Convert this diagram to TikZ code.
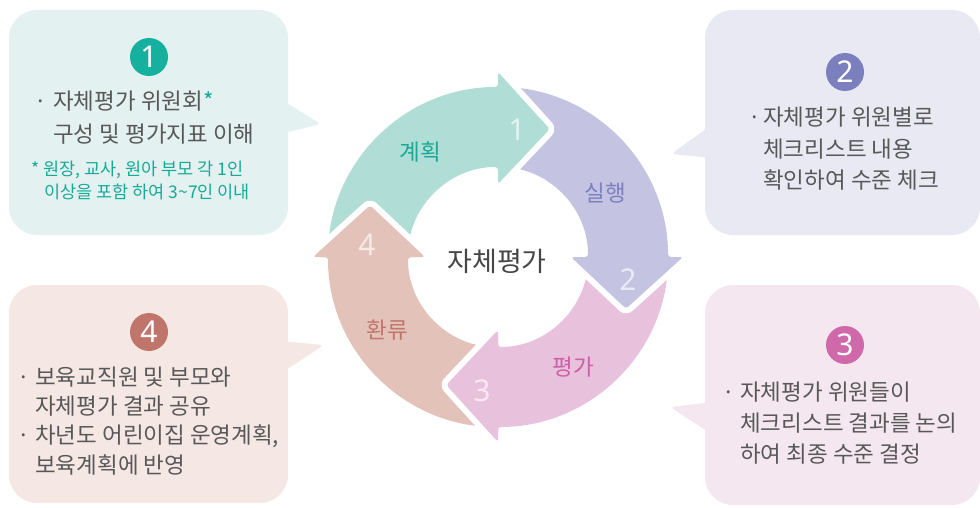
\documentclass[tikz,border=0pt]{standalone}
\usepackage{fontspec}
\setmainfont{Noto Sans CJK KR}
\newfontfamily\numf{Noto Sans}
\usetikzlibrary{calc}
\definecolor{cA}{RGB}{22,177,158}
\definecolor{bxA}{RGB}{227,241,240}
\definecolor{arA}{RGB}{176,221,214}
\definecolor{lbA}{RGB}{23,170,150}
\definecolor{cB}{RGB}{124,127,190}
\definecolor{bxB}{RGB}{233,233,244}
\definecolor{arB}{RGB}{196,195,225}
\definecolor{lbB}{RGB}{125,128,192}
\definecolor{cC}{RGB}{207,105,170}
\definecolor{bxC}{RGB}{245,231,240}
\definecolor{arC}{RGB}{232,193,220}
\definecolor{lbC}{RGB}{205,95,165}
\definecolor{cD}{RGB}{192,117,107}
\definecolor{bxD}{RGB}{245,232,228}
\definecolor{arD}{RGB}{227,194,186}
\definecolor{lbD}{RGB}{192,118,107}
\definecolor{txt}{RGB}{88,88,88}
\definecolor{ctr}{RGB}{70,70,70}
\tikzset{
  boxtext/.style={anchor=base west, inner sep=0pt, text=txt, font=\fontsize{22.5}{27}\selectfont},
  dotmark/.style={anchor=base, inner sep=0pt, text=txt, font=\fontsize{22.5}{27}\selectfont},
  notetext/.style={anchor=base west, inner sep=0pt, text=lbA, font=\fontsize{17.5}{21}\selectfont},
  badge/.style={circle, minimum size=38pt, inner sep=0pt, text=white, font=\numf\bfseries\fontsize{30}{30}\selectfont},
  arlabel/.style={inner sep=0pt, font=\fontsize{22.5}{27}\selectfont},
  arnum/.style={inner sep=0pt, text=white, text opacity=0.65, font=\numf\bfseries\fontsize{30}{30}\selectfont},
  bubble/.style={rounded corners=28pt},
  tail/.style={rounded corners=5pt}
}
\begin{document}
\begin{tikzpicture}[x=1pt,y=-1pt]
\useasboundingbox (0,0) rectangle (980,508);
% speech boxes
\fill[bxA, bubble] (9,10) rectangle (288,235);
\fill[bxA, tail] (280,99) -- (321,124) -- (280,134) -- cycle;
\fill[bxB, bubble] (705,10) rectangle (980,235);
\fill[bxB, tail] (713,124) -- (671,154) -- (713,158) -- cycle;
\fill[bxC, bubble] (705,285) rectangle (980,505);
\fill[bxC, tail] (713,402) -- (670,407) -- (713,435) -- cycle;
\fill[bxD, bubble] (9,285) rectangle (288,503);
\fill[bxD, tail] (280,341) -- (324,345) -- (280,374) -- cycle;
% cycle
\coordinate (C) at (498,257);
\foreach \b/\col in {-90/arA, 0/arB, 90/arC, 180/arD}{
  \pgfmathsetmacro\t{\b-90}
  \pgfmathsetmacro\p{\b+22}
  \fill[\col, rounded corners=3pt] ($(C)+(\t:170)$) arc[start angle=\t, end angle=\b, radius=170]
    -- ($(C)+(\b:185)$) -- ($(C)+(\p:138)$) -- ($(C)+(\b:73)$) -- ($(C)+(\b:90)$)
    arc[start angle=\b, end angle=\t, radius=90] -- cycle;
}
\foreach \b/\col in {-90/arA, 0/arB, 90/arC, 180/arD}{
  \pgfmathsetmacro\p{\b+22}
  \draw[white, line width=12pt, line cap=round, line join=round, rounded corners=3pt]
    ($(C)+(\b:185)$) -- ($(C)+(\p:138)$) -- ($(C)+(\b:73)$);
  \fill[\col, rounded corners=3pt] ($(C)+(\b:185)$) -- ($(C)+(\p:138)$) -- ($(C)+(\b:73)$) -- cycle;
}
\node[inner sep=0pt, text=ctr, font=\fontsize{27}{32}\selectfont] (center) at (497,261) {자체평가};
\node[arlabel, text=lbA] (lplan) at (420,152) {계획};
\node[arlabel, text=lbB] (ldo) at (605,193) {실행};
\node[arlabel, text=lbC] (leval) at (573,367) {평가};
\node[arlabel, text=lbD] (lfb) at (387,330) {환류};
\node[arnum] (n1) at (517,130) {1};
\node[arnum] (n2) at (628,280) {2};
\node[arnum] (n3) at (482,391) {3};
\node[arnum] (n4) at (367,245) {4};
% badges
\node[badge, fill=cA] (b1) at (149,57) {1};
\node[badge, fill=cB] (b2) at (845,72) {2};
\node[badge, fill=cC] (b3) at (845,345) {3};
\node[badge, fill=cD] (b4) at (149,332) {4};
% box 1 text
\node[dotmark] (d11) at (41,109.3) {·};
\node[boxtext] (t11) at (53,109.3) {자체평가 위원회{\color{lbA}*}};
\node[boxtext] (t12) at (53,142.3) {구성 및 평가지표 이해};
\node[notetext] (t13) at (31,175.5) {* 원장, 교사, 원아 부모 각 1인};
\node[notetext] (t14) at (44,198.5) {이상을 포함 하여 3\textasciitilde 7인 이내};
% box 2 text
\node[dotmark] (d21) at (755,125.3) {·};
\node[boxtext] (t21) at (763,125.3) {자체평가 위원별로};
\node[boxtext] (t22) at (763,157.3) {체크리스트 내용};
\node[boxtext] (t23) at (763,188.3) {확인하여 수준 체크};
% box 3 text
\node[dotmark] (d31) at (729,400.3) {·};
\node[boxtext] (t31) at (740,400.3) {자체평가 위원들이};
\node[boxtext] (t32) at (740,431.3) {체크리스트 결과를 논의};
\node[boxtext] (t33) at (740,462.3) {하여 최종 수준 결정};
% box 4 text
\node[dotmark] (d41) at (24,385.3) {·};
\node[boxtext] (t41) at (35,385.3) {보육교직원 및 부모와};
\node[boxtext] (t42) at (35,414.3) {자체평가 결과 공유};
\node[dotmark] (d43) at (24,443.3) {·};
\node[boxtext] (t43) at (35,443.3) {차년도 어린이집 운영계획,};
\node[boxtext] (t44) at (35,473.3) {보육계획에 반영};
\end{tikzpicture}
\end{document}
